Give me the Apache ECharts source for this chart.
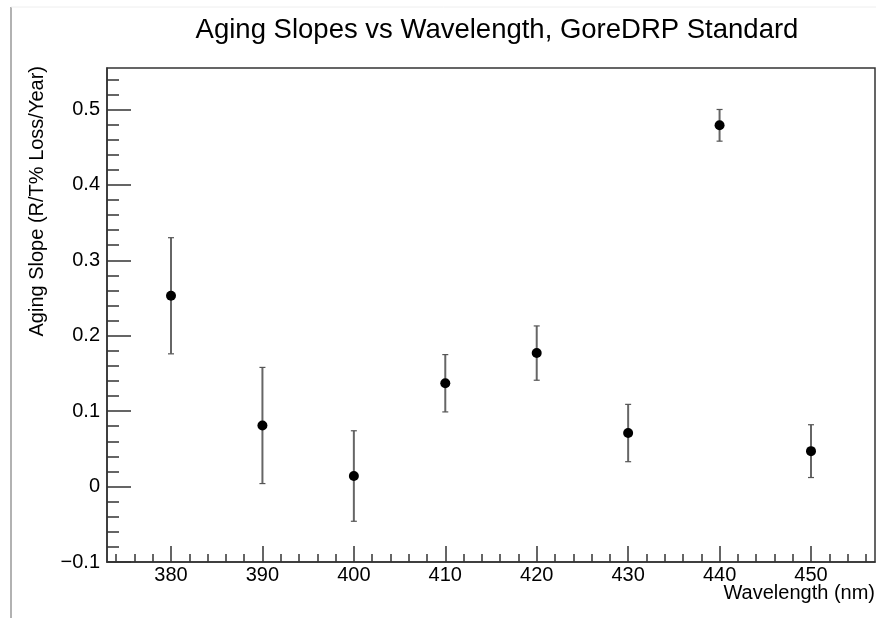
<!DOCTYPE html>
<html>
<head>
<meta charset="utf-8">
<script src="https://cdn.jsdelivr.net/npm/echarts@6/dist/echarts.min.js"></script>
<style>
html,body{margin:0;padding:0;background:#fff;}
#chart{width:876px;height:618px;}
</style>
</head>
<body>
<div id="chart"></div>
<script>
// Data
var wavelengths = [380, 390, 400, 410, 420, 430, 440, 450];
var slopes = [0.253, 0.081, 0.014, 0.137, 0.177, 0.071, 0.479, 0.047];
var errors = [0.077, 0.077, 0.060, 0.038, 0.036, 0.038, 0.021, 0.035];

// Tick labels / tick positions
var xTickLabels = [380, 390, 400, 410, 420, 430, 440, 450];
var xMinorTicks = [374, 376, 378, 382, 384, 386, 388, 392, 394, 396, 398, 402, 404, 406, 408,
  412, 414, 416, 418, 422, 424, 426, 428, 432, 434, 436, 438, 442, 444, 446, 448, 452, 454, 456];
var yTickLabels = [-0.1, 0, 0.1, 0.2, 0.3, 0.4, 0.5];
var yMinorTicks = [-0.08, -0.06, -0.04, -0.02, 0.02, 0.04, 0.06, 0.08, 0.12, 0.14, 0.16, 0.18,
  0.22, 0.24, 0.26, 0.28, 0.32, 0.34, 0.36, 0.38, 0.42, 0.44, 0.46, 0.48, 0.52, 0.54];

var titleText = 'Aging Slopes vs Wavelength, GoreDRP Standard';
var xTitle = 'Wavelength (nm)';
var yTitle = 'Aging Slope (R/T% Loss/Year)';

var FONT = '"Liberation Sans", Arial, Helvetica, sans-serif';

var points = wavelengths.map(function (w, i) { return [w, slopes[i]]; });
var bars = wavelengths.map(function (w, i) { return [w, slopes[i] - errors[i], slopes[i] + errors[i]]; });

var chart = echarts.init(document.getElementById('chart'), null, {renderer: 'canvas'});

function fmtY(v) {
  var s = String(+Number(v).toFixed(2));
  return s.replace('-', '\u2212');
}

var axisLineStyle = {color: '#333', width: 1.5};
var tickStyle = {color: '#333', width: 1.5};

var option = {
  backgroundColor: '#fff',
  animation: false,
  title: {
    text: titleText,
    left: 492,
    top: 11,
    textAlign: 'center',
    textStyle: {fontFamily: FONT, fontSize: 27.5, fontWeight: 'normal', color: '#000'}
  },
  grid: {
    left: 107, right: 1, top: 68, bottom: 56,
    show: true, borderColor: '#333', borderWidth: 1.5, backgroundColor: 'transparent'
  },
  xAxis: [{
    type: 'value', min: 373, max: 457, position: 'bottom',
    axisLine: {show: true, onZero: false, lineStyle: axisLineStyle},
    axisTick: {show: true, inside: true, length: 16, customValues: xTickLabels, lineStyle: tickStyle},
    axisLabel: {show: true, customValues: xTickLabels, margin: 3, fontFamily: FONT, fontSize: 20, color: '#000'},
    splitLine: {show: false}
  }, {
    type: 'value', min: 373, max: 457, position: 'bottom',
    axisLine: {show: false, onZero: false},
    axisTick: {show: true, inside: true, length: 8, customValues: xMinorTicks, lineStyle: tickStyle},
    axisLabel: {show: false},
    splitLine: {show: false}
  }],
  yAxis: [{
    type: 'value', min: -0.1, max: 0.555, position: 'left',
    axisLine: {show: true, onZero: false, lineStyle: axisLineStyle},
    axisTick: {show: true, inside: true, length: 24, customValues: yTickLabels, lineStyle: tickStyle},
    axisLabel: {show: true, customValues: yTickLabels, margin: 7, fontFamily: FONT, fontSize: 20, color: '#000', formatter: fmtY},
    splitLine: {show: false}
  }, {
    type: 'value', min: -0.1, max: 0.555, position: 'left',
    axisLine: {show: false, onZero: false},
    axisTick: {show: true, inside: true, length: 12, customValues: yMinorTicks, lineStyle: tickStyle},
    axisLabel: {show: false},
    splitLine: {show: false}
  }],
  graphic: [
    {type: 'line', shape: {x1: 11, y1: 7, x2: 11, y2: 618}, style: {stroke: '#999', lineWidth: 1.5}, silent: true},
    {type: 'line', shape: {x1: 11, y1: 7, x2: 876, y2: 7}, style: {stroke: '#eee', lineWidth: 1}, silent: true},
    {type: 'text', x: 875, y: 603, style: {text: xTitle, font: '20px ' + FONT, fill: '#000', textAlign: 'right', textVerticalAlign: 'bottom'}, silent: true},
    {type: 'text', x: 37, y: 66, rotation: Math.PI / 2, style: {text: yTitle, font: '20px ' + FONT, fill: '#000', textAlign: 'right', textVerticalAlign: 'middle'}, silent: true}
  ],
  series: [{
    type: 'custom',
    xAxisIndex: 0, yAxisIndex: 0,
    data: bars,
    renderItem: function (params, api) {
      var x = api.value(0);
      var lo = api.coord([x, api.value(1)]);
      var hi = api.coord([x, api.value(2)]);
      var cw = 3;
      return {
        type: 'group',
        children: [
          {type: 'line', shape: {x1: lo[0], y1: lo[1], x2: hi[0], y2: hi[1]}, style: {stroke: '#666', lineWidth: 2}},
          {type: 'line', shape: {x1: lo[0] - cw, y1: lo[1], x2: lo[0] + cw, y2: lo[1]}, style: {stroke: '#555', lineWidth: 1.2}},
          {type: 'line', shape: {x1: hi[0] - cw, y1: hi[1], x2: hi[0] + cw, y2: hi[1]}, style: {stroke: '#555', lineWidth: 1.2}}
        ]
      };
    },
    z: 2
  }, {
    type: 'scatter',
    xAxisIndex: 0, yAxisIndex: 0,
    data: points,
    symbol: 'circle',
    symbolSize: 10,
    itemStyle: {color: '#000', opacity: 1},
    z: 3
  }]
};

chart.setOption(option);
</script>
</body>
</html>
